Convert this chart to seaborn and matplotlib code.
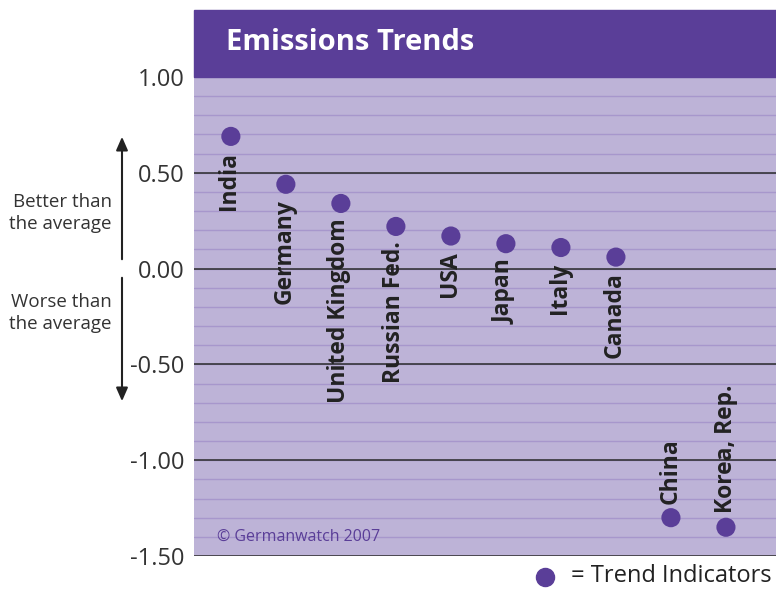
import numpy as np
import pandas as pd
import seaborn as sns
import matplotlib.pyplot as plt
from matplotlib.patches import Rectangle, FancyArrowPatch
from matplotlib.lines import Line2D

# data
countries = ["India", "Germany", "United Kingdom", "Russian Fed.", "USA",
             "Japan", "Italy", "Canada", "China", "Korea, Rep."]
trend = [0.69, 0.44, 0.34, 0.22, 0.17, 0.13, 0.11, 0.06, -1.30, -1.35]
yticks = [1.00, 0.50, 0.00, -0.50, -1.00, -1.50]

purple = "#5a3e98"
bg = "#bdb3d7"
minor_col = "#a797cc"
dark = "#2b2b2b"

sns.set_style("white")
plt.rcParams['font.family'] = ['Open Sans', 'DejaVu Sans']

df = pd.DataFrame({"country": countries, "trend": trend})

fig = plt.figure(figsize=(7.76, 5.90), dpi=100)
ax = fig.add_axes([194/776, 1 - 556/590, 582/776, 479/590])
ax.set_facecolor(bg)

# title band
fig.patches.append(Rectangle((194/776, 1 - 77/590), 582/776, 67/590,
                             transform=fig.transFigure, color=purple, zorder=0))
fig.text(226/776, 1 - 42/590, "Emissions Trends", color="white",
         fontsize=21, fontweight="bold", va="center", ha="left")

# grid lines
for v in np.arange(-1.4, 1.0, 0.1):
    ax.axhline(v, color=minor_col, lw=1.0, zorder=1)
for v in yticks:
    ax.axhline(v, color=dark, lw=1.1, zorder=2)

sns.scatterplot(data=df, x="country", y="trend", ax=ax, color=purple,
                s=190, edgecolor="none", zorder=5, legend=False)

# rotated country labels
for i, (c, v) in enumerate(zip(countries, trend)):
    if v < -1:
        ax.annotate(c, (i, v), xytext=(0, 10), textcoords="offset points",
                    rotation=90, ha="center", va="bottom", fontsize=16.5,
                    fontweight="bold", color="#222222", zorder=6)
    else:
        ax.annotate(c, (i, v), xytext=(-1, -11), textcoords="offset points",
                    rotation=90, ha="center", va="top", fontsize=16.5,
                    fontweight="bold", color="#222222", zorder=6)

ax.set_xlim(-0.67, 9.91)
ax.set_ylim(-1.5, 1.0)
ax.set_yticks(yticks)
ax.set_yticklabels([f"{t:.2f}" for t in yticks], fontsize=17, color="#333333")
ax.tick_params(axis="y", length=0, pad=7)
ax.set_xticks([])
ax.set_xlabel("")
ax.set_ylabel("")
for sp in ax.spines.values():
    sp.set_visible(False)

ax.text(0.04, 0.04, "\u00a9 Germanwatch 2007", transform=ax.transAxes,
        color=purple, fontsize=11.5, va="center", ha="left", zorder=6)

# side annotations with arrows
fig.text(112/776, 1 - 213/590, "Better than\nthe average", ha="right",
         va="center", fontsize=13.5, color="#333333", linespacing=1.3)
fig.text(112/776, 1 - 313/590, "Worse than\nthe average", ha="right",
         va="center", fontsize=13.5, color="#333333", linespacing=1.3)
fig.patches.append(FancyArrowPatch(
    (122/776, 1 - 262/590), (122/776, 1 - 134/590), transform=fig.transFigure,
    arrowstyle="-|>,head_length=8,head_width=3.5", color="#222222", lw=1.5))
fig.patches.append(FancyArrowPatch(
    (122/776, 1 - 275/590), (122/776, 1 - 404/590), transform=fig.transFigure,
    arrowstyle="-|>,head_length=8,head_width=3.5", color="#222222", lw=1.5))

# legend
fig.text(772/776, 1 - 576/590, "= Trend Indicators", ha="right", va="center",
         fontsize=17, color="#222222")
fig.add_artist(Line2D([545/776], [1 - 577/590], marker="o", markersize=13,
                      color=purple, transform=fig.transFigure, linestyle="none"))

fig.savefig("out.png", dpi=100)
